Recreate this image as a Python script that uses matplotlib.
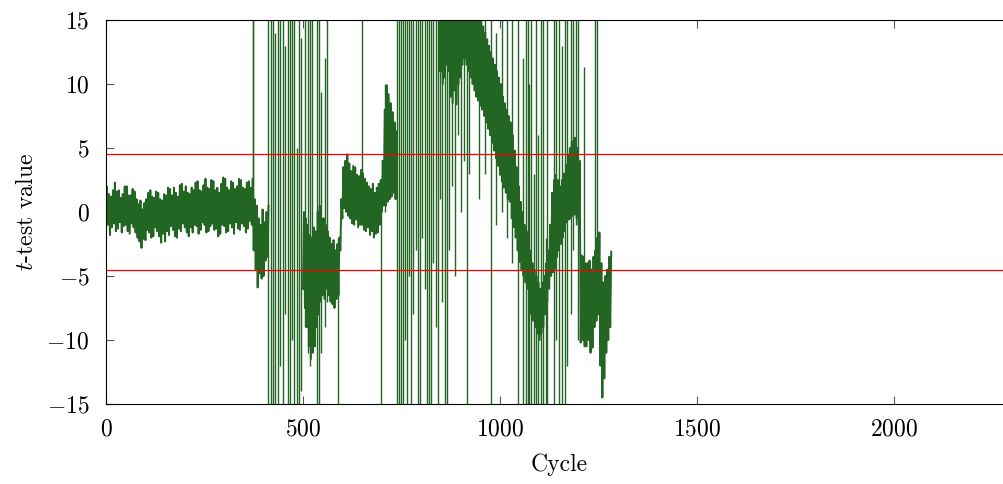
import matplotlib
matplotlib.use("Agg")
import matplotlib.pyplot as plt
import numpy as np

plt.rcParams['font.family'] = ['cmr10']
plt.rcParams['mathtext.fontset'] = 'cm'
plt.rcParams['axes.formatter.use_mathtext'] = True
plt.rcParams['font.size'] = 17

nan = np.nan

# the dense (noisy) part of the trace: lower / upper swing every 5 cycles, 0..1280
band_cycle = np.arange(0, 1285, 5)
band_lo = (
    # 0-370
    [-1.4, -1.0, -1.8, -1.2, -0.9, -1.5, -1.3, -0.8, -1.6, -1.1,
     -1.0, -1.5, -1.7, -0.9, -1.2, -1.6, -2.0, -2.3, -2.8, -2.1,
     -2.2, -1.4, -1.6, -2.0, -1.9, -1.2, -1.5, -1.9, -2.4, -1.7,
     -2.3, -1.5, -1.8, -1.1, -1.4, -1.9, -2.0, -1.3, -1.5, -0.9,
     -1.2, -1.6, -1.9, -1.2, -1.6, -1.0, -1.1, -1.7, -1.4, -0.8,
     -1.0, -1.6, -1.5, -1.1, -0.9, -1.4, -1.3, -1.9, -1.7, -1.0,
     -1.1, -1.6, -1.5, -0.9, -1.2, -1.7, -0.8, -1.3, -1.4, -0.9,
     -1.1, -1.6, -1.3, -0.7, -1.0]
    # 375-410
    + [-3.0, -4.5, -5.9, -4.8, -5.2, -5.0, -3.8, -3.5]
    # 415-495
    + [nan] * 17
    # 500-595
    + [-6.0, -7.5, -9.0, -10.5, -11.5, -11.0, -10.5, -9.0, -8.0, -7.0,
       -6.5, -6.8, -6.0, -6.5, -7.0, -7.2, -7.5, -6.8, -6.5, -3.0]
    # 600-695
    + [-0.5, 0.3, 0.0, -0.3, -0.5, -0.9, -1.0, -0.6, -1.2, -1.0,
       -1.0, -1.4, -1.5, -1.2, -1.8, -1.5, -2.0, -1.7, -1.6, -1.0]
    # 700-735
    + [0.0, 0.5, 0.5, 0.8, 1.0, 1.2, 1.5, 1.0]
    # 740-840
    + [nan] * 21
    # 845-925
    + [11.0, 11.0, 10.0, 10.5, 11.5, 11.0, 9.0, 8.5, 9.5, 8.4,
       10.0, 10.5, 11.5, 12.0, 11.5, 11.0, 10.5]
    # 930-1280
    + [10.0, 9.5, 9.0, 8.7, 8.3, 8.0, 7.5, 7.0, 6.5, 6.0,
       5.4, 4.8, 4.2, 3.6, 2.9, 2.4, 1.9, 1.5, 1.0, 0.8,
       -0.5, -1.2, -2.0, -3.0, -3.9, -4.5, -5.0, -5.5, -6.0, -7.0,
       -8.0, -8.5, -9.0, -9.5, -10.0, -9.5, -9.0, -8.0, -7.0, -6.0,
       -5.0, -4.7, -4.4, -3.5, -3.0, -2.5, -2.0, -1.5, -0.8, -0.6,
       -0.5, -0.3, -0.2, -0.5, -1.0, -10.2, -10.0, -10.5, -10.5, -10.0,
       -11.0, -10.6, -9.0, -8.5, -8.0, -12.0, -14.5, -13.0, -11.0, -10.0,
       -9.0]
)
band_hi = (
    # 0-370
    [2.0, 1.4, 1.2, 1.7, 2.3, 1.6, 1.7, 1.1, 1.4, 2.0,
     2.0, 1.3, 1.3, 1.8, 1.6, 1.0, 0.6, 0.9, 0.2, 0.7,
     1.0, 1.5, 1.7, 1.2, 1.1, 1.6, 1.5, 1.0, 0.9, 1.4,
     1.3, 1.9, 1.8, 1.3, 1.9, 1.5, 1.2, 2.1, 2.2, 1.6,
     2.0, 1.5, 1.4, 1.9, 1.7, 2.3, 2.4, 1.7, 1.6, 2.1,
     2.6, 1.9, 1.8, 2.5, 2.4, 1.7, 1.9, 1.5, 2.2, 2.7,
     2.6, 1.9, 1.7, 2.4, 2.3, 1.8, 2.0, 2.6, 2.5, 1.9,
     1.8, 2.3, 2.4, 1.9, 2.6]
    # 375-410
    + [1.0, 0.5, -0.5, -1.0, 0.2, -0.8, 0.0, 0.5]
    # 415-495
    + [nan] * 17
    # 500-595
    + [0.0, -0.5, -1.0, -1.8, -2.0, -1.2, -1.5, 0.0, 0.5, -0.5,
       -0.5, -1.0, -1.5, -2.0, -2.5, -2.2, -3.0, -2.5, -2.0, 1.0]
    # 600-695
    + [3.5, 4.0, 4.5, 3.8, 3.2, 3.6, 3.5, 2.9, 2.8, 3.3,
       3.0, 2.6, 2.3, 2.0, 1.8, 2.2, 1.5, 1.9, 2.2, 2.5]
    # 700-735
    + [4.0, 8.0, 9.9, 9.2, 8.5, 7.8, 7.0, 6.3]
    # 740-840
    + [nan] * 21
    # 845-925
    + [16.0] * 17
    # 930-1280
    + [16.0, 16.0, 15.5, 15.2, 15.0, 14.5, 14.0, 13.5, 13.0, 12.5,
       12.0, 11.5, 11.0, 10.5, 10.0, 9.0, 8.5, 8.0, 7.5, 7.0,
       6.0, 4.8, 3.5, 2.0, 0.8, 0.0, -1.0, -1.5, -2.0, -3.0,
       -4.0, -4.5, -5.0, -5.5, -6.0, -5.5, -5.0, -4.0, -3.0, -1.0,
       1.5, 2.5, 2.9, 2.5, 2.0, 2.5, 3.0, 3.7, 4.5, 5.0,
       5.5, 5.8, 5.8, 5.0, 4.0, -3.4, -3.5, -4.0, -4.0, -3.8,
       -4.5, -3.5, -3.0, -2.0, -1.6, -4.0, -5.5, -5.0, -4.5, -3.5,
       -3.1]
)

# single swings of the trace that leave the band
spike_cycle = [372, 374, 412, 418, 423, 430, 437, 442, 449, 455,
               462, 468, 472, 478, 484, 490, 496, 505, 513, 518,
               523, 535, 540, 545, 555, 562, 589, 650, 697, 708,
               738, 744, 749, 755, 760, 764, 770, 775, 780, 786,
               792, 797, 803, 809, 815, 820, 825, 831, 837, 842,
               848, 854, 860, 865, 870, 878, 885, 893, 900, 908,
               916, 922, 948, 963, 977, 990, 1005, 1018, 1030, 1047,
               1058, 1065, 1070, 1075, 1080, 1086, 1092, 1097, 1103, 1110,
               1116, 1120, 1137, 1142, 1150, 1158, 1165, 1170, 1180, 1186,
               1192, 1198, 1214, 1242, 1247]
spike_lo = [1, -3, -16, -16, -16, -16, -16, -12, -16, -8,
            -16, -16, -10, -16, -16, -16, -14, -9, -11, -12,
            -10, -16, -16, -11, -9, -7, -16, -1, -16, 0,
            -16, -16, -16, -16, -10, -16, -5, -16, -8, -3,
            -16, -16, -2, -6, -16, -16, -16, -4, -9, -16,
            1, -7, -16, -16, -3, 2, -5, 6, 0, 4,
            -16, 3, 1, 3, -16, -1, 0, -2, -4, -16,
            -16, -16, -16, -16, -16, -16, -16, -16, -16, -16,
            -16, -16, -16, -10, -16, -16, -16, -12, -8, -3,
            -1, -10, -10, -3, -3]
spike_hi = [16, 16, 16, 16, 16, 14, 16, 16, 16, 13,
            16, 16, 16, 16, 5, 16, 13.6, 16, 16, 16,
            16, 16, 16, 9.4, 12, 16, -2, 16, 2, 10,
            16, 16, 16, 16, 16, 16, 16, 16, 16, 16,
            16, 16, 16, 16, 16, 16, 16, 16, 16, 16,
            16, 16, 16, 16, 16, 16, 16, 16, 16, 16,
            16, 16, 16, 16, 16, 14, 16, 16, 16, 16,
            12, 16, 16, 10, 16, 3, 16, 6, 16, 16,
            -2, 16, 16, 16, 16, 13, 16, 16, 16, 16,
            16, 16, 11.3, 16, 16]

threshold = 4.5
green = '#236523'

fig = plt.figure(figsize=(10.04, 4.84), dpi=100)
ax = fig.add_axes([0.1056, 0.1653, 0.9024, 0.7934])

# trace swings down/up alternately inside the band
zig_x = np.column_stack([band_cycle, band_cycle + 2.5]).ravel()
zig_y = np.column_stack([band_lo, band_hi]).ravel()
ax.plot(zig_x, zig_y, color=green, lw=1.4)
ax.vlines(spike_cycle, spike_lo, spike_hi, color=green, lw=1.0)
ax.axhline(threshold, color='red', lw=0.9)
ax.axhline(-threshold, color='red', lw=0.9)

ax.set_xlim(0, 2300)
ax.set_ylim(-15, 15)
ax.set_xticks([0, 500, 1000, 1500, 2000])
ax.set_yticks([-15, -10, -5, 0, 5, 10, 15])
ax.tick_params(direction='in', top=True, right=True, length=6, width=0.8,
               color='#555555', labelsize=17)
ax.tick_params(axis='x', pad=10)
ax.tick_params(axis='y', pad=12)
ax.set_xlabel('Cycle', labelpad=10)
ax.set_ylabel('$t$-test value', labelpad=6)

fig.savefig('out.png', dpi=100)
